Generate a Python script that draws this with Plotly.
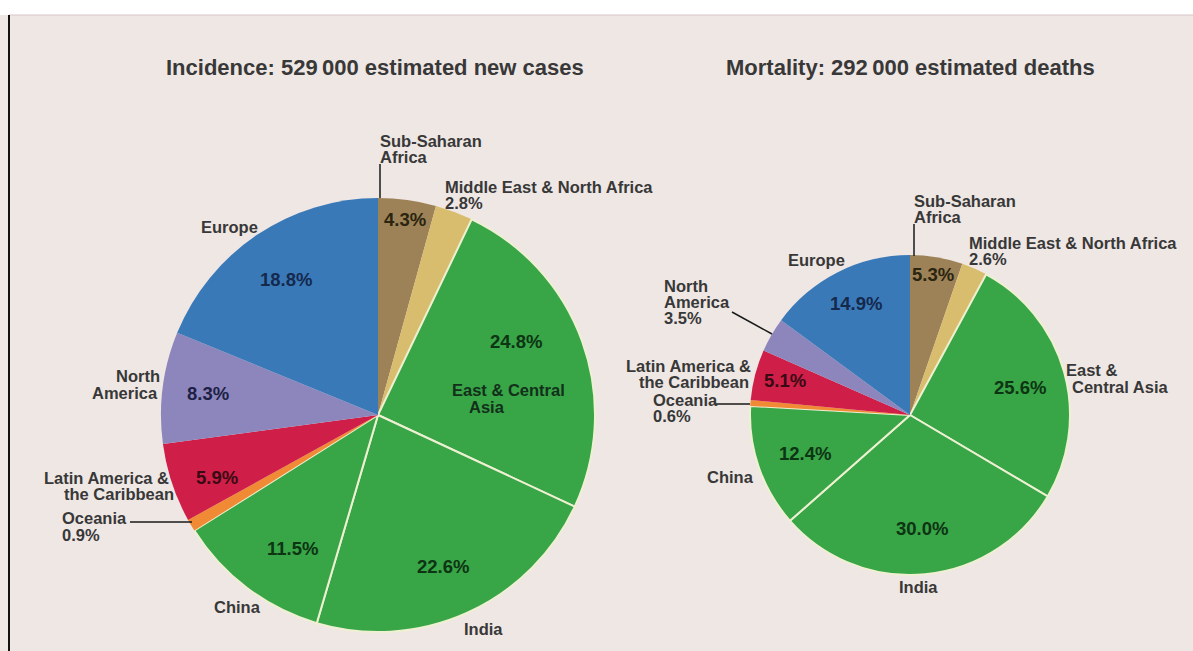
import plotly.graph_objects as go

W, H = 1193, 651

# Regions, listed clockwise from 12 o'clock
regions = ["Sub-Saharan Africa", "Middle East & North Africa", "East & Central Asia",
           "India", "China", "Oceania", "Latin America & the Caribbean",
           "North America", "Europe"]
incidence_pct = [4.3, 2.8, 24.8, 22.6, 11.5, 0.9, 5.9, 8.3, 18.8]
mortality_pct = [5.3, 2.6, 25.6, 30.0, 12.4, 0.6, 5.1, 3.5, 14.9]
incidence_total = "529\u2009000"
mortality_total = "292\u2009000"

slice_colors = ["#9c8256", "#d9bd6f", "#38a547", "#38a547", "#38a547",
                "#f08a34", "#cf1f48", "#8d86bd", "#3a79b8"]
edge_widths = [0, 0, 2, 2, 2, 0, 0, 0, 0]

BG = "#efe7e4"
FONT = "Liberation Sans, Arial, sans-serif"
TXT = "#383838"
LABEL_SIZE = 16.5
PCT_SIZE = 18.5
TITLE_SIZE = 22


def px(x):
    return x / W


def py(y):
    return 1 - y / H


def pie(values, cx, cy, r):
    return go.Pie(
        labels=regions, values=values, sort=False, direction="clockwise",
        rotation=0, textinfo="none", hoverinfo="label+value",
        marker=dict(colors=slice_colors,
                    line=dict(color="#eef0d2", width=edge_widths)),
        domain=dict(x=[px(cx - r), px(cx + r)], y=[py(cy + r), py(cy - r)]),
        showlegend=False,
    )


fig = go.Figure()
fig.add_trace(pie(incidence_pct, 378, 415, 217))
fig.add_trace(pie(mortality_pct, 910, 415, 160))

annotations = []


def note(text, x, y, anchor="center", color=TXT, size=LABEL_SIZE):
    annotations.append(dict(
        text=f"<b>{text}</b>", x=px(x), y=py(y), xref="paper", yref="paper",
        xanchor=anchor, yanchor="middle", align=anchor, showarrow=False,
        font=dict(family=FONT, size=size, color=color)))


def pnote(value, x, y, color):
    note(f"{value:.1f}%", x, y, color=color, size=PCT_SIZE)


# Titles
note(f"Incidence: {incidence_total} estimated new cases", 375, 68, size=TITLE_SIZE)
note(f"Mortality: {mortality_total} estimated deaths", 910, 68, size=TITLE_SIZE)

# Incidence pie labels
inc = dict(zip(regions, incidence_pct))
note("Sub-Saharan", 378, 141, "left")
note("Africa", 378, 157, "left")
note("Middle East & North Africa", 443, 187, "left")
note(f"{inc['Middle East & North Africa']:.1f}%", 443, 203, "left")
pnote(inc["Sub-Saharan Africa"], 405, 219, "#2a2410")
pnote(inc["East & Central Asia"], 516, 341, "#0d3413")
note("East & Central", 508, 390, color="#12301a")
note("Asia", 487, 407, color="#12301a")
pnote(inc["India"], 443, 566, "#0d3413")
note("India", 483, 629)
pnote(inc["China"], 292, 548, "#0d3413")
note("China", 237, 607)
note("Oceania", 60, 518, "left")
note(f"{inc['Oceania']:.1f}%", 60, 535, "left")
note("Latin America &", 171, 478, "right")
note("the Caribbean", 176, 494, "right")
pnote(inc["Latin America & the Caribbean"], 217, 477, "#3a0a14")
note("North", 162, 376, "right")
note("America", 160, 393, "right")
pnote(inc["North America"], 208, 393, "#1d1f45")
note("Europe", 229, 227)
pnote(inc["Europe"], 286, 279, "#15294d")

# Mortality pie labels
mor = dict(zip(regions, mortality_pct))
note("Sub-Saharan", 912, 201, "left")
note("Africa", 912, 217, "left")
note("Middle East & North Africa", 967, 243, "left")
note(f"{mor['Middle East & North Africa']:.1f}%", 967, 259, "left")
pnote(mor["Sub-Saharan Africa"], 933, 274, "#2a2410")
note("Europe", 816, 260)
pnote(mor["Europe"], 856, 303, "#15294d")
note("North", 662, 286, "left")
note("America", 662, 302, "left")
note(f"{mor['North America']:.1f}%", 662, 318, "left")
note("Latin America &", 753, 366, "right")
note("the Caribbean", 751, 382, "right")
pnote(mor["Latin America & the Caribbean"], 785, 380, "#3a0a14")
note("Oceania", 651, 400, "left")
note(f"{mor['Oceania']:.1f}%", 651, 416, "left")
pnote(mor["China"], 805, 453, "#0d3413")
note("China", 730, 477)
pnote(mor["India"], 922, 528, "#0d3413")
note("India", 918, 587)
pnote(mor["East & Central Asia"], 1020, 387, "#0d3413")
note("East &", 1064, 370, "left")
note("Central Asia", 1070, 387, "left")

fig.update_layout(annotations=annotations)

# Frame, top band and leader lines
shapes = [
    dict(type="rect", xref="paper", yref="paper", x0=0, x1=1, y0=py(15), y1=1,
         fillcolor="white", line=dict(width=0), layer="below"),
    dict(type="line", xref="paper", yref="paper", x0=px(9), x1=1, y0=py(15), y1=py(15),
         line=dict(color="#d8c8c8", width=1)),
    dict(type="line", xref="paper", yref="paper", x0=px(9), x1=px(9), y0=0, y1=py(15),
         line=dict(color="#111111", width=2)),
]
leaders = [
    (380, 164, 380, 198),
    (130, 522, 192, 522),
    (914, 224, 914, 256),
    (732, 312, 772, 334),
    (715, 404, 750, 404),
]
for x0, y0, x1, y1 in leaders:
    shapes.append(dict(type="line", xref="paper", yref="paper",
                       x0=px(x0), y0=py(y0), x1=px(x1), y1=py(y1),
                       line=dict(color="#1a1a1a", width=1.5)))

fig.update_layout(
    width=W, height=H, autosize=False,
    margin=dict(l=0, r=0, t=0, b=0),
    paper_bgcolor=BG, plot_bgcolor=BG,
    shapes=shapes,
)

fig.write_html("out.html")
